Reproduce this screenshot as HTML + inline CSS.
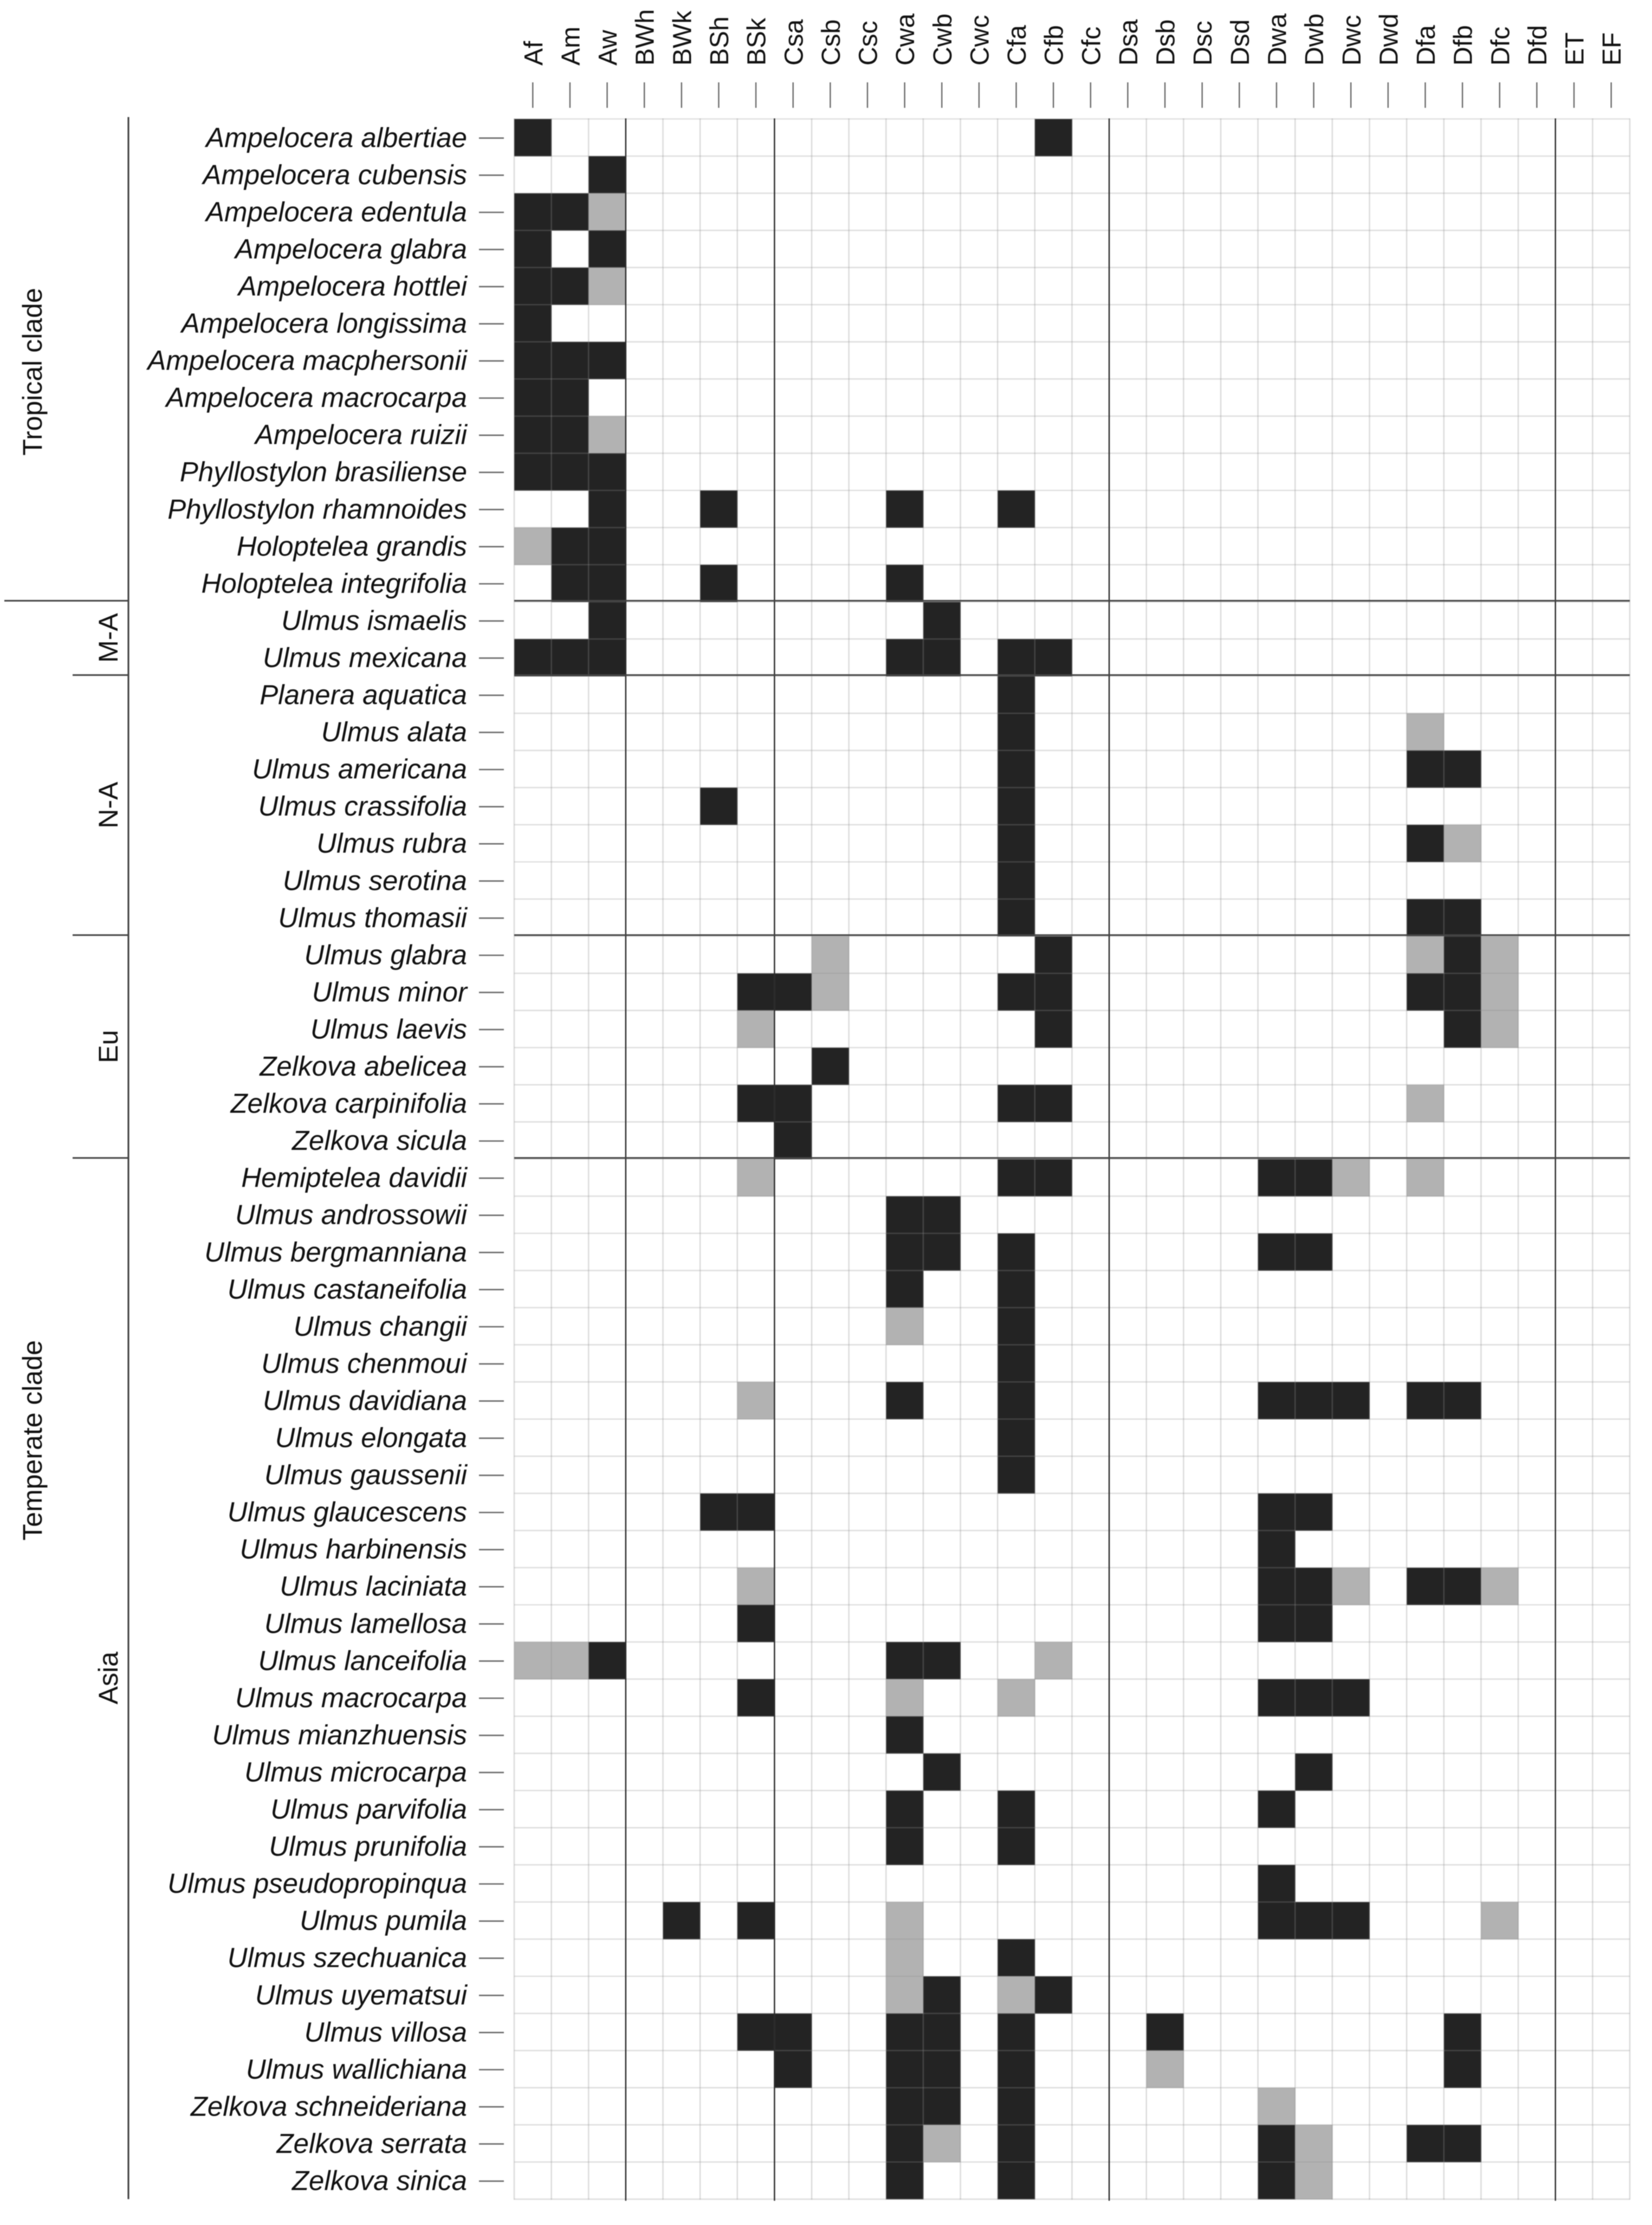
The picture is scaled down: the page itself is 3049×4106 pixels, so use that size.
<!DOCTYPE html>
<html lang="en">
<head>
<meta charset="utf-8">
<title>Climate zones of Ulmaceae species</title>
<style>
html,body{margin:0;padding:0;background:#fff;}
#chart{display:block;width:3049px;height:4106px;filter:blur(0.7px);}
text{font-family:"Liberation Sans",sans-serif;fill:#111;}
</style>
</head>
<body>
<svg id="chart" xmlns="http://www.w3.org/2000/svg" width="3049" height="4106" viewBox="0 0 3049 4106"></svg>
<script>
const climateZones = ["Af","Am","Aw","BWh","BWk","BSh","BSk","Csa","Csb","Csc","Cwa","Cwb","Cwc","Cfa","Cfb","Cfc","Dsa","Dsb","Dsc","Dsd","Dwa","Dwb","Dwc","Dwd","Dfa","Dfb","Dfc","Dfd","ET","EF"];
const species = ["Ampelocera albertiae","Ampelocera cubensis","Ampelocera edentula","Ampelocera glabra","Ampelocera hottlei","Ampelocera longissima","Ampelocera macphersonii","Ampelocera macrocarpa","Ampelocera ruizii","Phyllostylon brasiliense","Phyllostylon rhamnoides","Holoptelea grandis","Holoptelea integrifolia","Ulmus ismaelis","Ulmus mexicana","Planera aquatica","Ulmus alata","Ulmus americana","Ulmus crassifolia","Ulmus rubra","Ulmus serotina","Ulmus thomasii","Ulmus glabra","Ulmus minor","Ulmus laevis","Zelkova abelicea","Zelkova carpinifolia","Zelkova sicula","Hemiptelea davidii","Ulmus androssowii","Ulmus bergmanniana","Ulmus castaneifolia","Ulmus changii","Ulmus chenmoui","Ulmus davidiana","Ulmus elongata","Ulmus gaussenii","Ulmus glaucescens","Ulmus harbinensis","Ulmus laciniata","Ulmus lamellosa","Ulmus lanceifolia","Ulmus macrocarpa","Ulmus mianzhuensis","Ulmus microcarpa","Ulmus parvifolia","Ulmus prunifolia","Ulmus pseudopropinqua","Ulmus pumila","Ulmus szechuanica","Ulmus uyematsui","Ulmus villosa","Ulmus wallichiana","Zelkova schneideriana","Zelkova serrata","Zelkova sinica"];
// 0 = absent, 1 = main occurrence (dark), 2 = marginal occurrence (grey)
// Column blocks: A(3) | B(4) | C(9) | D(12) | E(2)
const occurrence = [
[1,0,0, 0,0,0,0, 0,0,0,0,0,0,0,1,0, 0,0,0,0,0,0,0,0,0,0,0,0, 0,0],
[0,0,1, 0,0,0,0, 0,0,0,0,0,0,0,0,0, 0,0,0,0,0,0,0,0,0,0,0,0, 0,0],
[1,1,2, 0,0,0,0, 0,0,0,0,0,0,0,0,0, 0,0,0,0,0,0,0,0,0,0,0,0, 0,0],
[1,0,1, 0,0,0,0, 0,0,0,0,0,0,0,0,0, 0,0,0,0,0,0,0,0,0,0,0,0, 0,0],
[1,1,2, 0,0,0,0, 0,0,0,0,0,0,0,0,0, 0,0,0,0,0,0,0,0,0,0,0,0, 0,0],
[1,0,0, 0,0,0,0, 0,0,0,0,0,0,0,0,0, 0,0,0,0,0,0,0,0,0,0,0,0, 0,0],
[1,1,1, 0,0,0,0, 0,0,0,0,0,0,0,0,0, 0,0,0,0,0,0,0,0,0,0,0,0, 0,0],
[1,1,0, 0,0,0,0, 0,0,0,0,0,0,0,0,0, 0,0,0,0,0,0,0,0,0,0,0,0, 0,0],
[1,1,2, 0,0,0,0, 0,0,0,0,0,0,0,0,0, 0,0,0,0,0,0,0,0,0,0,0,0, 0,0],
[1,1,1, 0,0,0,0, 0,0,0,0,0,0,0,0,0, 0,0,0,0,0,0,0,0,0,0,0,0, 0,0],
[0,0,1, 0,0,1,0, 0,0,0,1,0,0,1,0,0, 0,0,0,0,0,0,0,0,0,0,0,0, 0,0],
[2,1,1, 0,0,0,0, 0,0,0,0,0,0,0,0,0, 0,0,0,0,0,0,0,0,0,0,0,0, 0,0],
[0,1,1, 0,0,1,0, 0,0,0,1,0,0,0,0,0, 0,0,0,0,0,0,0,0,0,0,0,0, 0,0],
[0,0,1, 0,0,0,0, 0,0,0,0,1,0,0,0,0, 0,0,0,0,0,0,0,0,0,0,0,0, 0,0],
[1,1,1, 0,0,0,0, 0,0,0,1,1,0,1,1,0, 0,0,0,0,0,0,0,0,0,0,0,0, 0,0],
[0,0,0, 0,0,0,0, 0,0,0,0,0,0,1,0,0, 0,0,0,0,0,0,0,0,0,0,0,0, 0,0],
[0,0,0, 0,0,0,0, 0,0,0,0,0,0,1,0,0, 0,0,0,0,0,0,0,0,2,0,0,0, 0,0],
[0,0,0, 0,0,0,0, 0,0,0,0,0,0,1,0,0, 0,0,0,0,0,0,0,0,1,1,0,0, 0,0],
[0,0,0, 0,0,1,0, 0,0,0,0,0,0,1,0,0, 0,0,0,0,0,0,0,0,0,0,0,0, 0,0],
[0,0,0, 0,0,0,0, 0,0,0,0,0,0,1,0,0, 0,0,0,0,0,0,0,0,1,2,0,0, 0,0],
[0,0,0, 0,0,0,0, 0,0,0,0,0,0,1,0,0, 0,0,0,0,0,0,0,0,0,0,0,0, 0,0],
[0,0,0, 0,0,0,0, 0,0,0,0,0,0,1,0,0, 0,0,0,0,0,0,0,0,1,1,0,0, 0,0],
[0,0,0, 0,0,0,0, 0,2,0,0,0,0,0,1,0, 0,0,0,0,0,0,0,0,2,1,2,0, 0,0],
[0,0,0, 0,0,0,1, 1,2,0,0,0,0,1,1,0, 0,0,0,0,0,0,0,0,1,1,2,0, 0,0],
[0,0,0, 0,0,0,2, 0,0,0,0,0,0,0,1,0, 0,0,0,0,0,0,0,0,0,1,2,0, 0,0],
[0,0,0, 0,0,0,0, 0,1,0,0,0,0,0,0,0, 0,0,0,0,0,0,0,0,0,0,0,0, 0,0],
[0,0,0, 0,0,0,1, 1,0,0,0,0,0,1,1,0, 0,0,0,0,0,0,0,0,2,0,0,0, 0,0],
[0,0,0, 0,0,0,0, 1,0,0,0,0,0,0,0,0, 0,0,0,0,0,0,0,0,0,0,0,0, 0,0],
[0,0,0, 0,0,0,2, 0,0,0,0,0,0,1,1,0, 0,0,0,0,1,1,2,0,2,0,0,0, 0,0],
[0,0,0, 0,0,0,0, 0,0,0,1,1,0,0,0,0, 0,0,0,0,0,0,0,0,0,0,0,0, 0,0],
[0,0,0, 0,0,0,0, 0,0,0,1,1,0,1,0,0, 0,0,0,0,1,1,0,0,0,0,0,0, 0,0],
[0,0,0, 0,0,0,0, 0,0,0,1,0,0,1,0,0, 0,0,0,0,0,0,0,0,0,0,0,0, 0,0],
[0,0,0, 0,0,0,0, 0,0,0,2,0,0,1,0,0, 0,0,0,0,0,0,0,0,0,0,0,0, 0,0],
[0,0,0, 0,0,0,0, 0,0,0,0,0,0,1,0,0, 0,0,0,0,0,0,0,0,0,0,0,0, 0,0],
[0,0,0, 0,0,0,2, 0,0,0,1,0,0,1,0,0, 0,0,0,0,1,1,1,0,1,1,0,0, 0,0],
[0,0,0, 0,0,0,0, 0,0,0,0,0,0,1,0,0, 0,0,0,0,0,0,0,0,0,0,0,0, 0,0],
[0,0,0, 0,0,0,0, 0,0,0,0,0,0,1,0,0, 0,0,0,0,0,0,0,0,0,0,0,0, 0,0],
[0,0,0, 0,0,1,1, 0,0,0,0,0,0,0,0,0, 0,0,0,0,1,1,0,0,0,0,0,0, 0,0],
[0,0,0, 0,0,0,0, 0,0,0,0,0,0,0,0,0, 0,0,0,0,1,0,0,0,0,0,0,0, 0,0],
[0,0,0, 0,0,0,2, 0,0,0,0,0,0,0,0,0, 0,0,0,0,1,1,2,0,1,1,2,0, 0,0],
[0,0,0, 0,0,0,1, 0,0,0,0,0,0,0,0,0, 0,0,0,0,1,1,0,0,0,0,0,0, 0,0],
[2,2,1, 0,0,0,0, 0,0,0,1,1,0,0,2,0, 0,0,0,0,0,0,0,0,0,0,0,0, 0,0],
[0,0,0, 0,0,0,1, 0,0,0,2,0,0,2,0,0, 0,0,0,0,1,1,1,0,0,0,0,0, 0,0],
[0,0,0, 0,0,0,0, 0,0,0,1,0,0,0,0,0, 0,0,0,0,0,0,0,0,0,0,0,0, 0,0],
[0,0,0, 0,0,0,0, 0,0,0,0,1,0,0,0,0, 0,0,0,0,0,1,0,0,0,0,0,0, 0,0],
[0,0,0, 0,0,0,0, 0,0,0,1,0,0,1,0,0, 0,0,0,0,1,0,0,0,0,0,0,0, 0,0],
[0,0,0, 0,0,0,0, 0,0,0,1,0,0,1,0,0, 0,0,0,0,0,0,0,0,0,0,0,0, 0,0],
[0,0,0, 0,0,0,0, 0,0,0,0,0,0,0,0,0, 0,0,0,0,1,0,0,0,0,0,0,0, 0,0],
[0,0,0, 0,1,0,1, 0,0,0,2,0,0,0,0,0, 0,0,0,0,1,1,1,0,0,0,2,0, 0,0],
[0,0,0, 0,0,0,0, 0,0,0,2,0,0,1,0,0, 0,0,0,0,0,0,0,0,0,0,0,0, 0,0],
[0,0,0, 0,0,0,0, 0,0,0,2,1,0,2,1,0, 0,0,0,0,0,0,0,0,0,0,0,0, 0,0],
[0,0,0, 0,0,0,1, 1,0,0,1,1,0,1,0,0, 0,1,0,0,0,0,0,0,0,1,0,0, 0,0],
[0,0,0, 0,0,0,0, 1,0,0,1,1,0,1,0,0, 0,2,0,0,0,0,0,0,0,1,0,0, 0,0],
[0,0,0, 0,0,0,0, 0,0,0,1,1,0,1,0,0, 0,0,0,0,2,0,0,0,0,0,0,0, 0,0],
[0,0,0, 0,0,0,0, 0,0,0,1,2,0,1,0,0, 0,0,0,0,1,2,0,0,1,1,0,0, 0,0],
[0,0,0, 0,0,0,0, 0,0,0,1,0,0,1,0,0, 0,0,0,0,1,2,0,0,0,0,0,0, 0,0]
];
const regionNames = ["M-A","N-A","Eu","Asia"];
const regionRowCounts = [2,7,6,28];
const tropicalRowCount = 13;
const climateGroupSizes = [3,4,9,12,2];

const SVGNS = "http://www.w3.org/2000/svg";
const svg = document.getElementById("chart");
const gridLeft = 949, gridRight = 3008, gridTop = 219.5, rowStep = 68.55;
const colStep = (gridRight - gridLeft) / climateZones.length;
const gridBottom = gridTop + rowStep * species.length;
const xAt = function (c) { return gridLeft + c * colStep; };
const yAt = function (r) { return gridTop + r * rowStep; };
const slug = function (s) { return s.toLowerCase().replace(/[^a-z0-9]+/g, "-"); };

function make(tag, attrs, parent) {
  const node = document.createElementNS(SVGNS, tag);
  Object.keys(attrs).forEach(function (k) { node.setAttribute(k, attrs[k]); });
  (parent || svg).appendChild(node);
  return node;
}
function group(name) {
  const g = make("g", {});
  
  
  return g;
}

// cells
const cellLayer = group("heatmap-cells");
occurrence.forEach(function (row, r) {
  row.forEach(function (v, c) {
    if (!v) return;
    const el = make("rect", {
      x: xAt(c), y: yAt(r), width: colStep + 0.4, height: rowStep + 0.4,
      fill: v === 1 ? "#232323" : "#b2b2b2"
    }, cellLayer);
    
    
  });
});

// light grid
const gridLayer = group("grid-lines");
for (let c = 0; c <= climateZones.length; c++) {
  const el = make("line", { x1: xAt(c), x2: xAt(c), y1: gridTop - 1, y2: gridBottom + 1, stroke: "#909090", "stroke-opacity": 0.3, "stroke-width": 2.6 }, gridLayer);
  
  
}
for (let r = 0; r <= species.length; r++) {
  const el = make("line", { x1: gridLeft, x2: gridRight, y1: yAt(r), y2: yAt(r), stroke: "#909090", "stroke-opacity": 0.28, "stroke-width": 2.6 }, gridLayer);
  
  
}

// climate group dividers
const dividerLayer = group("climate-group-dividers");
let colSum = 0;
climateGroupSizes.slice(0, -1).forEach(function (n) {
  colSum += n;
  const el = make("line", { x1: xAt(colSum), x2: xAt(colSum), y1: gridTop - 1, y2: gridBottom + 3, stroke: "#2a2a2a", "stroke-width": 2.4 }, dividerLayer);
  
  
});

// region dividers
const regionLayer = group("region-dividers");
let rowSum = tropicalRowCount;
function regionDivider(r, leftStart) {
  const y = yAt(r) - 2;
  const a = make("line", { x1: leftStart, x2: 237, y1: y, y2: y, stroke: "#444", "stroke-width": 3 }, regionLayer);
  
  
  const b = make("line", { x1: gridLeft, x2: gridRight, y1: y, y2: y, stroke: "#444", "stroke-width": 3 }, regionLayer);
  
  
}
regionDivider(rowSum, 8);
regionRowCounts.slice(0, -1).forEach(function (n) {
  rowSum += n;
  regionDivider(rowSum, 134);
});

// bracket spine
const spine = make("line", { x1: 237, x2: 237, y1: 216, y2: gridBottom, stroke: "#444", "stroke-width": 3.2 });



// column ticks and labels
const colLayer = group("climate-zone-axis");
climateZones.forEach(function (z, c) {
  const cx = xAt(c) + colStep / 2;
  const t = make("line", { x1: cx, x2: cx, y1: 152, y2: 199, stroke: "#6a6a6a", "stroke-width": 2.4 }, colLayer);
  
  
  const lab = make("text", { "font-size": 48, transform: "translate(" + (cx + 17.5) + ",121) rotate(-90)" }, colLayer);
  lab.textContent = z;
  
  
});

// row ticks and labels
const rowLayer = group("species-axis");
species.forEach(function (s, r) {
  const cy = yAt(r) + rowStep / 2 + 1;
  const t = make("line", { x1: 884, x2: 930, y1: cy, y2: cy, stroke: "#6a6a6a", "stroke-width": 2.6 }, rowLayer);
  
  
  const lab = make("text", { x: 862, y: cy + 16.5, "font-size": 51, "font-style": "italic", "text-anchor": "end" }, rowLayer);
  lab.textContent = s;
  
  
});

// group labels
function sideLabel(text, baselineX, centerY) {
  const el = make("text", { "font-size": 50, "text-anchor": "middle", transform: "translate(" + baselineX + "," + centerY + ") rotate(-90)" });
  el.textContent = text;
  return el;
}
const tropicalLabel = sideLabel("Tropical clade", 77, 686);


const temperateLabel = sideLabel("Temperate clade", 77, 2658);


let regionStart = tropicalRowCount;
regionNames.forEach(function (name, i) {
  const mid = regionStart + regionRowCounts[i] / 2;
  regionStart += regionRowCounts[i];
  const el = sideLabel(name, 217, yAt(mid) - 2);
  
  
});
</script>
</body>
</html>
